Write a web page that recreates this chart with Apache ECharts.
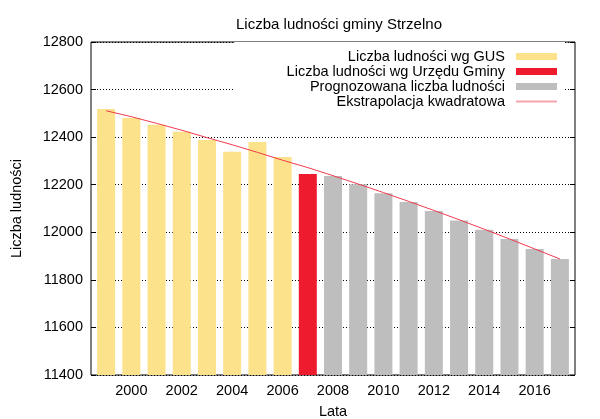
<!DOCTYPE html>
<html>
<head>
<meta charset="utf-8">
<title>Liczba ludności gminy Strzelno</title>
<script src="https://cdn.jsdelivr.net/npm/echarts@6/dist/echarts.min.js"></script>
<style>
  html, body { margin: 0; padding: 0; background: #fff; }
  #chart { width: 600px; height: 419px; }
</style>
</head>
<body>
<div id="chart"></div>
<script>
// dane
const gusYears = [1999, 2000, 2001, 2002, 2003, 2004, 2005, 2006];
const gusValues = [12518, 12481, 12452, 12423, 12388, 12339, 12380, 12317];
const urzadYears = [2007];
const urzadValues = [12245];
const prognozaYears = [2008, 2009, 2010, 2011, 2012, 2013, 2014, 2015, 2016, 2017];
const prognozaValues = [12237, 12202, 12164, 12127, 12090, 12050, 12011, 11972, 11930, 11888];
const trendYears = [1999, 2000, 2001, 2002, 2003, 2004, 2005, 2006, 2007, 2008,
  2009, 2010, 2011, 2012, 2013, 2014, 2015, 2016, 2017];
const trendValues = [12511, 12486, 12458, 12429, 12398, 12368, 12336, 12303, 12272, 12238,
  12203, 12167, 12130, 12092, 12053, 12013, 11972, 11930, 11888];
const xTickLabels = [2000, 2002, 2004, 2006, 2008, 2010, 2012, 2014, 2016];

const FONT = '"Liberation Sans", Arial, sans-serif';
const FS = 14.5;
const pairs = (xs, ys) => xs.map((x, i) => [x, ys[i]]);

const chart = echarts.init(document.getElementById('chart'));

const barBase = {
  type: 'bar',
  barWidth: 18,
  barGap: '-100%',
  z: 2
};

chart.setOption({
  animation: false,
  textStyle: { fontFamily: FONT, color: '#000' },
  title: {
    text: 'Liczba ludności gminy Strzelno',
    left: 334,
    textAlign: 'center',
    top: 12,
    textStyle: { fontFamily: FONT, fontSize: 15, fontWeight: 'normal', color: '#000' }
  },
  legend: {
    orient: 'vertical',
    align: 'right',
    right: 35,
    top: 42,
    padding: [7, 8, 8, 52],
    backgroundColor: '#fff',
    itemWidth: 41,
    itemHeight: 7,
    itemGap: 0,
    selectedMode: false,
    z: 10,
    textStyle: { fontFamily: FONT, fontSize: FS, color: '#000', padding: [0, 6, 0, 0] },
    data: [
      { name: 'Liczba ludności wg GUS', icon: 'rect' },
      { name: 'Liczba ludności wg Urzędu Gminy', icon: 'rect' },
      { name: 'Prognozowana liczba ludności', icon: 'rect' },
      {
        name: 'Ekstrapolacja kwadratowa',
        icon: 'path://M0,0H42V2H0Z',
        itemStyle: { color: '#f5a3ac', borderWidth: 0 },
        lineStyle: { color: '#f5a3ac', width: 0 }
      }
    ]
  },
  grid: {
    left: 91,
    right: 25,
    top: 42,
    bottom: 44,
    outerBoundsMode: 'none',
    containLabel: false,
    show: true,
    borderColor: '#000',
    borderWidth: 1,
    backgroundColor: 'transparent'
  },
  xAxis: {
    type: 'value',
    min: 1998.4,
    max: 2017.6,
    name: 'Lata',
    nameLocation: 'middle',
    nameGap: 29,
    nameTextStyle: { fontFamily: FONT, fontSize: FS, color: '#000' },
    axisLine: { show: false },
    axisTick: { show: false },
    splitLine: { show: false },
    axisLabel: {
      customValues: xTickLabels,
      formatter: v => String(v),
      margin: 8,
      fontFamily: FONT,
      fontSize: FS,
      color: '#000'
    }
  },
  yAxis: [
    {
      type: 'value',
      min: 11400,
      max: 12800,
      interval: 200,
      name: 'Liczba ludności',
      nameLocation: 'middle',
      nameGap: 67,
      nameTextStyle: { fontFamily: FONT, fontSize: FS, color: '#000' },
      axisLine: { show: false },
      axisTick: { show: true, inside: true, length: 5, lineStyle: { color: '#000' } },
      axisLabel: { margin: 8, formatter: v => String(v), fontFamily: FONT, fontSize: FS, color: '#000' },
      splitLine: { show: true, lineStyle: { color: '#000', type: [1, 2], width: 1 } }
    },
    {
      type: 'value',
      position: 'right',
      min: 11400,
      max: 12800,
      interval: 200,
      axisLine: { show: false },
      axisTick: { show: true, inside: true, length: 5, lineStyle: { color: '#000' } },
      axisLabel: { show: false },
      splitLine: { show: false }
    }
  ],
  series: [
    Object.assign({}, barBase, {
      name: 'Liczba ludności wg GUS',
      itemStyle: { color: '#fce28a' },
      data: pairs(gusYears, gusValues)
    }),
    Object.assign({}, barBase, {
      name: 'Liczba ludności wg Urzędu Gminy',
      itemStyle: { color: '#ee1b2e' },
      data: pairs(urzadYears, urzadValues)
    }),
    Object.assign({}, barBase, {
      name: 'Prognozowana liczba ludności',
      itemStyle: { color: '#bebebe' },
      data: pairs(prognozaYears, prognozaValues)
    }),
    {
      name: 'Ekstrapolacja kwadratowa',
      type: 'line',
      symbol: 'none',
      z: 3,
      itemStyle: { color: '#f5a3ac' },
      lineStyle: { color: '#f03a4e', width: 1 },
      data: pairs(trendYears, trendValues)
    }
  ]
});
</script>
</body>
</html>
